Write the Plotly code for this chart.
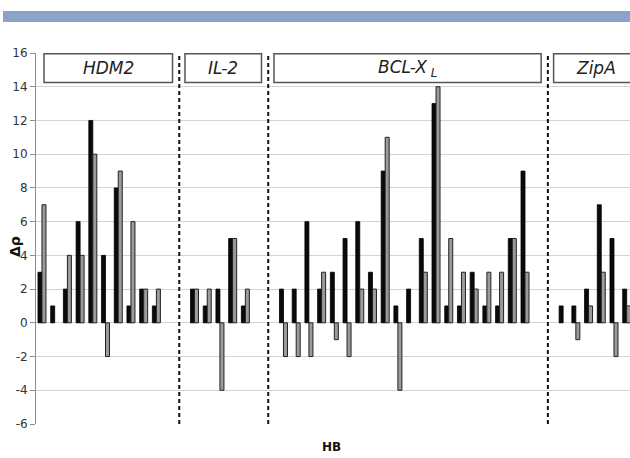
import plotly.graph_objects as go

# ---- data ----
group_names = ["HDM2", "IL-2", "BCL-X<sub> L</sub>", "ZipA"]
hdm2_black = [3, 1, 2, 6, 12, 4, 8, 1, 2, 1]
hdm2_gray = [7, 0, 4, 4, 10, -2, 9, 6, 2, 2]
il2_black = [2, 1, 2, 5, 1]
il2_gray = [2, 2, -4, 5, 2]
bcl_black = [2, 2, 6, 2, 3, 5, 6, 3, 9, 1, 2, 5, 13, 1, 1, 3, 1, 1, 5, 9]
bcl_gray = [-2, -2, -2, 3, -1, -2, 2, 2, 11, -4, 0, 3, 14, 5, 3, 2, 3, 3, 5, 3]
zipa_black = [1, 1, 2, 7, 5, 2]
zipa_gray = [0, -1, 1, 3, -2, 1]
y_ticks = [-6, -4, -2, 0, 2, 4, 6, 8, 10, 12, 14, 16]
y_tick_labels = ["-6", "-4", "-2", "0", "2", "4", "6", "8", "10", "12", "14", "16"]

blacks = [hdm2_black, il2_black, bcl_black, zipa_black]
grays = [hdm2_gray, il2_gray, bcl_gray, zipa_gray]

# ---- layout of slots ----
GAP = 2
xs, yb, yg = [], [], []
firsts, lasts = [], []
slot = 0
for b, g in zip(blacks, grays):
    firsts.append(slot)
    for vb, vg in zip(b, g):
        xs.append(slot)
        yb.append(vb)
        yg.append(vg if vg != 0 else None)
        slot += 1
    lasts.append(slot - 1)
    slot += GAP

W, H = 630, 458
ML, MR, MT, MB = 36, 0, 53, 34
XMIN, XMAX = -0.47, 46.26
YMIN, YMAX = -6, 16

fig = go.Figure()
fig.add_trace(go.Bar(x=xs, y=yb, marker=dict(color="#0a0a0a", line=dict(color="#000000", width=0.8)),
                     showlegend=False, hoverinfo="skip"))
fig.add_trace(go.Bar(x=xs, y=yg, marker=dict(color="#9b9b9b", line=dict(color="#222222", width=1)),
                     showlegend=False, hoverinfo="skip"))

shapes = []
annotations = []
# dividers
dividers = [l + 1.8 for l in lasts[:-1]]
for d in dividers:
    shapes.append(dict(type="line", xref="x", yref="y", x0=d, x1=d, y0=YMIN, y1=YMAX,
                       line=dict(color="#111111", width=2, dash="4px,3px")))
# label boxes
for i, name in enumerate(group_names):
    x0 = max(firsts[i] - 0.75, XMIN + 0.63)
    last_group = i == len(group_names) - 1
    x1 = XMAX + 1 if last_group else lasts[i] + 1.27
    shapes.append(dict(type="rect", xref="x", yref="y", x0=x0, x1=x1, y0=14.25, y1=15.96,
                       line=dict(color="#555555", width=1.5), fillcolor="white", layer="above"))
    xc = (x0 + XMAX + 0.7) / 2 if last_group else (x0 + x1) / 2
    annotations.append(dict(x=xc, y=15.1, xref="x", yref="y", text="<i>" + name + "</i>",
                            xanchor="center", yanchor="middle",
                            showarrow=False, font=dict(family="DejaVu Sans", size=17, color="#222222")))

# top blue band (paper coords from pixels)
pw, ph = W - ML - MR, H - MT - MB
def px_x(p):
    return (p - ML) / pw
def px_y(p):
    return (H - MB - p) / ph
shapes.append(dict(type="rect", xref="paper", yref="paper", x0=px_x(3), x1=px_x(632),
                   y0=px_y(22), y1=px_y(11), fillcolor="#8ba3c9", line=dict(width=0), layer="above"))

annotations.append(dict(xref="paper", yref="paper", x=px_x(15), y=px_y(247), text="<b>Δρ</b>",
                        xanchor="center", yanchor="middle",
                        textangle=-90, showarrow=False, font=dict(family="DejaVu Sans", size=14, color="#111111")))
annotations.append(dict(xref="paper", yref="paper", x=px_x(331), y=px_y(447), text="<b>HB</b>",
                        xanchor="center", yanchor="middle",
                        showarrow=False, font=dict(family="DejaVu Sans", size=12, color="#111111")))

fig.update_layout(
    width=W, height=H,
    margin=dict(l=ML, r=MR, t=MT, b=MB),
    paper_bgcolor="white", plot_bgcolor="white",
    barmode="group", bargap=0.37, bargroupgap=0,
    shapes=shapes, annotations=annotations,
    xaxis=dict(range=[XMIN, XMAX], showticklabels=False, showgrid=False, zeroline=False,
               showline=False, ticks=""),
    yaxis=dict(range=[YMIN, YMAX], tickvals=y_ticks, ticktext=y_tick_labels,
               showgrid=True, gridcolor="#d4d4d4", gridwidth=1,
               zeroline=False, showline=True, linecolor="#8c8c8c", linewidth=1,
               ticks="outside", ticklen=5, tickcolor="#8c8c8c",
               tickfont=dict(family="DejaVu Sans", size=12, color="#333333")),
)

fig.write_html("out.html", config={"displayModeBar": False},
               post_script="document.body.style.margin='0';document.body.style.overflow='hidden';")
